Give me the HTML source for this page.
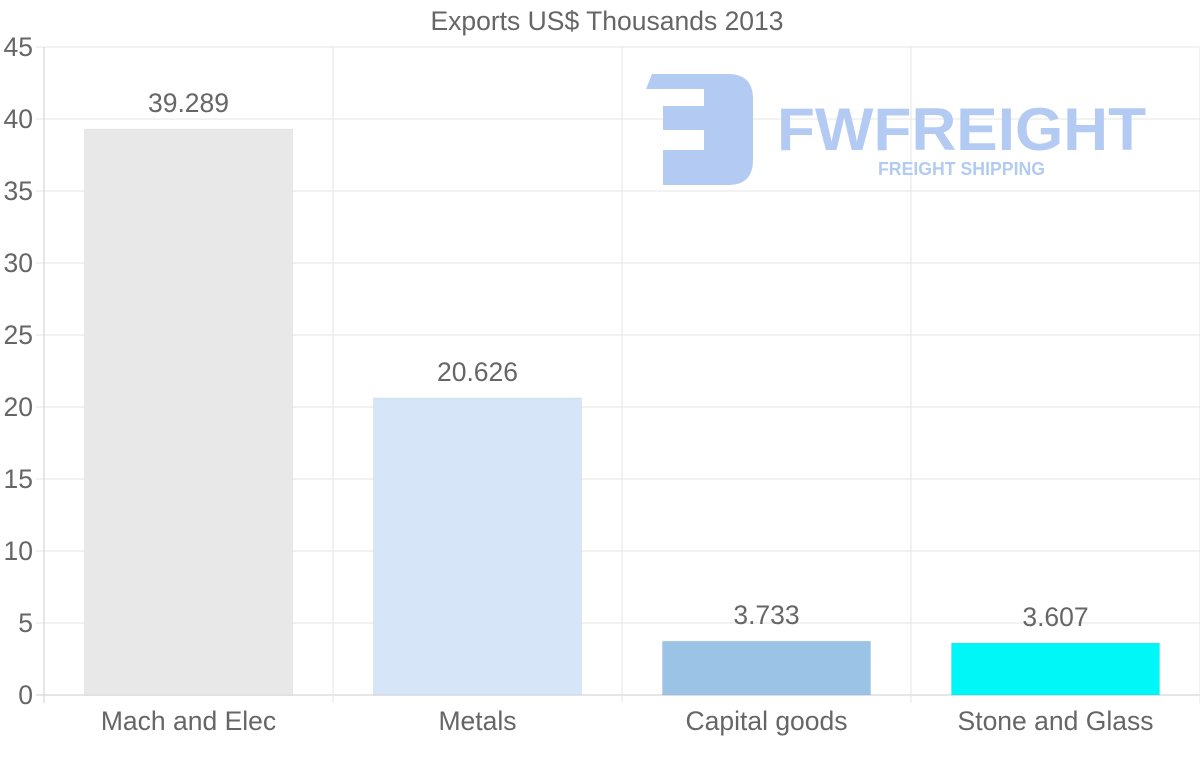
<!DOCTYPE html>
<html><head><meta charset="utf-8"><style>
html,body{margin:0;padding:0;background:#fff;width:1200px;height:763px;overflow:hidden}
text{font-family:"Liberation Sans",sans-serif}
</style></head><body>
<svg id="chart" width="1200" height="763">
<text x="607" y="30" font-size="26.5" fill="#666" text-anchor="middle">Exports US$ Thousands 2013</text>
<g id="grid"></g>
<g id="logo">
<path d="M652 74 H728 Q753 74 753 99 V160 Q753 185 728 185 H663 V150 H704 V130 H663 V106 H704 V89 H646 Z" fill="#b3cbf3"/>
<text x="777" y="150" font-size="60" font-weight="bold" fill="#b3cbf3" textLength="369" lengthAdjust="spacingAndGlyphs">FWFREIGHT</text>
<text x="878" y="175" font-size="18" font-weight="bold" fill="#b3cbf3" font-family="Liberation Serif,serif" textLength="167" lengthAdjust="spacingAndGlyphs">FREIGHT SHIPPING</text>
</g>
<g id="bars"></g>
<g id="axes"></g>
</svg>
<script>
const categories = ["Mach and Elec","Metals","Capital goods","Stone and Glass"];
const values = [39.289,20.626,3.733,3.607];
const valueLabels = ["39.289","20.626","3.733","3.607"];
const colors = ["#e8e8e8","#d6e6f8","#9bc3e6","#00f7f7"];
const yTicks = [0,5,10,15,20,25,30,35,40,45];
const NS="http://www.w3.org/2000/svg";
const X0=44,X1=1200,Y0=695,Y1=47,YMAX=45;
const y=v=>Y0-(v/YMAX)*(Y0-Y1);
const band=(X1-X0)/categories.length;
const x=i=>X0+i*band;
const FS=26.5;
function mk(tag,attrs,parent,txt){const e=document.createElementNS(NS,tag);for(const k in attrs)e.setAttribute(k,attrs[k]);if(txt!==undefined)e.textContent=txt;parent.appendChild(e);return e;}
const grid=document.getElementById('grid'),bars=document.getElementById('bars'),axes=document.getElementById('axes');
yTicks.forEach(t=>{
  const l=mk('line',{x1:36,x2:X1,y1:y(t),y2:y(t),stroke:t===0?'#ccc':'#e4e4e4','stroke-width':1},grid);
  
  
  const tx=mk('text',{x:33,y:y(t)+9,'font-size':FS,fill:'#666','text-anchor':'end'},axes,String(t));
  
  
});
for(let i=0;i<=categories.length;i++){
  const l=mk('line',{x1:x(i),x2:x(i),y1:Y1,y2:Y0+8,stroke:i===0?'#ccc':'#e4e4e4','stroke-width':1},grid);
  
  
}
categories.forEach((c,i)=>{
  const bw=band*0.72,bx=x(i)+(band-bw)/2;
  const r=mk('rect',{x:bx,y:y(values[i]),width:bw,height:Y0-y(values[i]),fill:colors[i],stroke:'rgba(0,0,0,0.05)'},bars);
  
  
  const v=mk('text',{x:x(i)+band/2,y:y(values[i])-17,'font-size':FS,fill:'#666','text-anchor':'middle'},axes,valueLabels[i]);
  
  
  const cl=mk('text',{x:x(i)+band/2,y:730,'font-size':FS,fill:'#666','text-anchor':'middle'},axes,c);
  
  
});
</script>
</body></html>
